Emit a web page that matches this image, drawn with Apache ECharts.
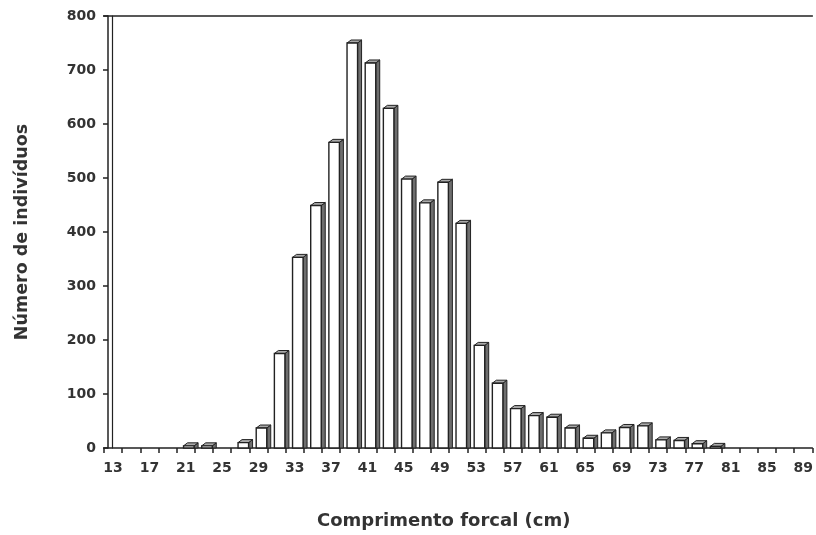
<!DOCTYPE html>
<html>
<head>
<meta charset="utf-8">
<script src="https://cdn.jsdelivr.net/npm/echarts@6/dist/echarts.min.js"></script>
<style>html,body{margin:0;padding:0;background:#fff;}#c{width:816px;height:535px;}</style>
</head>
<body>
<div id="c"></div>
<script>
// Comprimento forcal (cm) classes
var categories = [13,15,17,19,21,23,25,27,29,31,33,35,37,39,41,43,45,47,49,51,53,55,57,59,61,63,65,67,69,71,73,75,77,79,81,83,85,87,89];
// Número de indivíduos
var counts = [0,0,0,0,4,4,0,10,37,175,353,449,566,750,713,629,498,454,492,416,190,120,73,60,57,37,18,28,38,41,15,14,8,3,0,0,0,0,0];
var yTicks = [0,100,200,300,400,500,600,700,800];
var xTitle = 'Comprimento forcal (cm)';
var yTitle = 'Número de indivíduos';

var chart = echarts.init(document.getElementById('c'), null, {renderer: 'canvas'});
var lineColor = '#222';
var textColor = '#333';
var fontFam = '"DejaVu Sans", sans-serif';

function renderBar(params, api) {
  var v = api.value(1);
  if (v <= 0) return null;
  var top = api.coord([api.value(0), v]);
  var base = api.coord([api.value(0), 0]);
  var band = api.size([1, 0])[0];
  var left = top[0] - band * 0.12;
  var w = band * 0.58;
  var d = band * 0.22;
  var dy = 3;
  var y0 = top[1], yb = base[1];
  return {
    type: 'group',
    children: [
      {type: 'polygon', shape: {points: [[left + w, y0], [left + w + d, y0 - dy], [left + w + d, yb], [left + w, yb]]},
       style: {fill: '#6e6e6e', stroke: lineColor, lineWidth: 1}},
      {type: 'polygon', shape: {points: [[left, y0], [left + d, y0 - dy], [left + w + d, y0 - dy], [left + w, y0]]},
       style: {fill: '#aaaaaa', stroke: lineColor, lineWidth: 1}},
      {type: 'rect', shape: {x: left, y: y0, width: w, height: yb - y0},
       style: {fill: '#ffffff', stroke: lineColor, lineWidth: 1.4}}
    ]
  };
}

chart.setOption({
  animation: false,
  backgroundColor: '#fff',
  grid: {left: 104, top: 16, width: 713, height: 435},
  xAxis: [{
    type: 'category',
    data: categories,
    boundaryGap: true,
    axisLine: {lineStyle: {color: lineColor, width: 1.5}},
    axisTick: {show: true, interval: 0, length: 5, lineStyle: {color: lineColor, width: 1.5}},
    axisLabel: {interval: 1, margin: 13, color: textColor, fontSize: 14, fontWeight: 'bold', fontFamily: fontFam},
    name: xTitle,
    nameLocation: 'middle',
    nameGap: 64,
    nameTextStyle: {color: textColor, fontSize: 18, fontWeight: 'bold', fontFamily: fontFam, padding: [0, 29, 0, 0]}
  }, {
    type: 'category',
    data: categories,
    position: 'top',
    axisLine: {show: true, onZero: false, lineStyle: {color: lineColor, width: 1.5}},
    axisTick: {show: false},
    axisLabel: {show: false}
  }],
  yAxis: [{
    type: 'value',
    min: 0, max: 800, interval: 100,
    offset: -4,
    axisLine: {show: true, onZero: false, lineStyle: {color: lineColor, width: 1.5}},
    axisTick: {show: true, length: 5, lineStyle: {color: lineColor, width: 1.5}},
    axisLabel: {margin: 12, color: textColor, fontSize: 14, fontWeight: 'bold', fontFamily: fontFam,
      formatter: function (v) { return yTicks.indexOf(v) >= 0 ? String(v) : ''; }},
    splitLine: {show: false},
    name: yTitle,
    nameLocation: 'middle',
    nameGap: 77,
    nameTextStyle: {color: textColor, fontSize: 17.5, fontWeight: 'bold', fontFamily: fontFam}
  }, {
    type: 'value',
    min: 0, max: 800, interval: 100,
    position: 'left',
    offset: -8,
    axisLine: {show: true, onZero: false, lineStyle: {color: lineColor, width: 1.2}},
    axisTick: {show: false},
    axisLabel: {show: false},
    splitLine: {show: false}
  }],
  series: [{
    type: 'custom',
    renderItem: renderBar,
    data: counts.map(function (v, i) { return [i, v]; }),
    encode: {x: 0, y: 1},
    clip: false,
    z: 3
  }]
});
</script>
</body>
</html>
